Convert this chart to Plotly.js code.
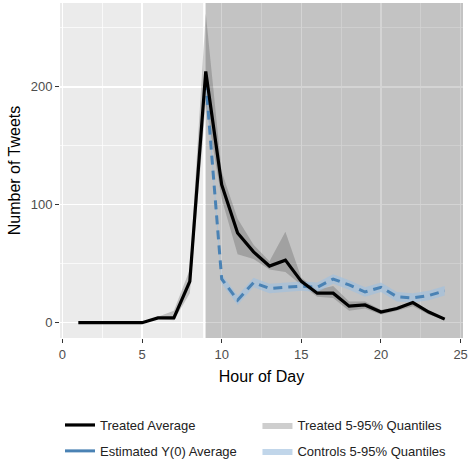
<!DOCTYPE html>
<html>
<head>
<meta charset="utf-8">
<script src="https://cdn.plot.ly/plotly-3.0.1.min.js"></script>
<style>html,body{margin:0;padding:0;background:#fff;}#chart{width:474px;height:464px;}</style>
</head>
<body>
<div id="chart"></div>
<script>
// ---- data ----
const hours = [1,2,3,4,5,6,7,8,9,10,11,12,13,14,15,16,17,18,19,20,21,22,23,24];
const treatedAvg  = [0,0,0,0,0,4,4,35,213,117,76,60,48,53,35,25,25,14,15,9,12,17,9,3];
const treatedLow  = [0,0,0,0,0,3,2,25,185,105,58,54,45,43,32,22,21,10,12,7,10,14,7,2];
const treatedHigh = [0,0,0,0,0,5,10,45,262,128,88,66,52,77,38,28,31,18,18,11,13,18,10,4];
const estHours = [9,10,11,12,13,14,15,16,17,18,19,20,21,22,23,24];
const estimatedY0 = [205,37,19,34,29,30,31,30,37,32,26,30,22,21,23,27];
const controlsLow  = [198,33,15,30,25,26,27,26,33,28,22,26,18,17,19,23];
const controlsHigh = [212,41,23,38,33,34,35,34,41,36,30,34,26,25,27,31];
const treatmentStart = 9;
const treatmentLine = 8.9;
const xRange = [-0.15, 25.15];
const yRange = [-13, 271];
const xTicks = [0,5,10,15,20,25];
const xMinor = [2.5,7.5,12.5,17.5,22.5];
const yTicks = [0,100,200];
const yMinor = [50,150,250];

const blue = '#4a82b4';
const traces = [
  // post-treatment shaded period (drawn above the grid, below the data)
  {x:[treatmentStart, xRange[1], xRange[1], treatmentStart],
   y:[yRange[0], yRange[0], yRange[1], yRange[1]],
   mode:'lines', line:{width:0}, fill:'toself', fillcolor:'rgba(0,0,0,0.17)',
   showlegend:false, hoverinfo:'skip'},
  {x: hours, y: treatedLow, mode:'lines', line:{width:0}, showlegend:false, hoverinfo:'skip'},
  {x: hours, y: treatedHigh, mode:'lines', line:{width:0}, fill:'tonexty',
   fillcolor:'rgba(60,60,60,0.25)', name:'Treated 5-95% Quantiles',
   legend:'legend2', legendrank:1, legendgroup:'tq'},
  {x: estHours, y: controlsLow, mode:'lines', line:{width:0}, showlegend:false, hoverinfo:'skip'},
  {x: estHours, y: controlsHigh, mode:'lines', line:{width:0}, fill:'tonexty',
   fillcolor:'rgba(160,192,222,0.65)', name:'Controls 5-95% Quantiles',
   legend:'legend2', legendrank:2, legendgroup:'cq'},
  {x: estHours, y: estimatedY0, mode:'lines', line:{color:blue, width:3, dash:'9px,6px'},
   showlegend:false},
  {x: hours, y: treatedAvg, mode:'lines', line:{color:'black', width:3.2},
   name:'Treated Average', legend:'legend', legendrank:1, legendgroup:'ta'},
  {x:[null], y:[null], mode:'lines', line:{color:blue, width:3},
   name:'Estimated Y(0) Average', legend:'legend', legendrank:2, legendgroup:'ey'}
];

const tickFont = {size:13, color:'#4d4d4d'};
const layout = {
  width:474, height:464,
  margin:{l:60, r:11, t:3, b:126, autoexpand:false},
  paper_bgcolor:'white', plot_bgcolor:'#EBEBEB',
  font:{family:'"Liberation Sans", Arial, sans-serif', color:'black'},
  xaxis:{range:xRange, tickmode:'array', tickvals:xTicks, ticks:'outside', ticklen:4,
    tickwidth:1, tickcolor:'#333', tickfont:tickFont, showgrid:true, gridcolor:'white',
    gridwidth:1.5, zeroline:false, showline:false, automargin:false,
    minor:{tickmode:'array', tickvals:xMinor, showgrid:true, gridcolor:'white', gridwidth:0.7, ticks:''},
    title:{text:'Hour of Day', font:{size:16, color:'black'}, standoff:10}},
  yaxis:{range:yRange, tickmode:'array', tickvals:yTicks, ticks:'outside', ticklen:4,
    tickwidth:1, tickcolor:'#333', tickfont:tickFont, showgrid:true, gridcolor:'white',
    gridwidth:1.5, zeroline:false, showline:false, automargin:false,
    minor:{tickmode:'array', tickvals:yMinor, showgrid:true, gridcolor:'white', gridwidth:0.7, ticks:''},
    title:{text:'Number of Tweets', font:{size:16, color:'black'}, standoff:6}},
  shapes:[
    {type:'line', xref:'x', yref:'paper', x0:treatmentLine, x1:treatmentLine, y0:0, y1:1,
     line:{color:'white', width:2}, layer:'below'}
  ],
  legend:{x:0.0, y:-0.215, xanchor:'left', yanchor:'top', orientation:'v',
    font:{size:13, color:'#222'}, tracegroupgap:6, itemwidth:30, bgcolor:'rgba(0,0,0,0)'},
  legend2:{x:0.49, y:-0.215, xanchor:'left', yanchor:'top', orientation:'v',
    font:{size:13, color:'#222'}, tracegroupgap:6, itemwidth:30, bgcolor:'rgba(0,0,0,0)'},
  showlegend:true
};

Plotly.newPlot('chart', traces, layout, {displayModeBar:false, staticPlot:true});
</script>
</body>
</html>
